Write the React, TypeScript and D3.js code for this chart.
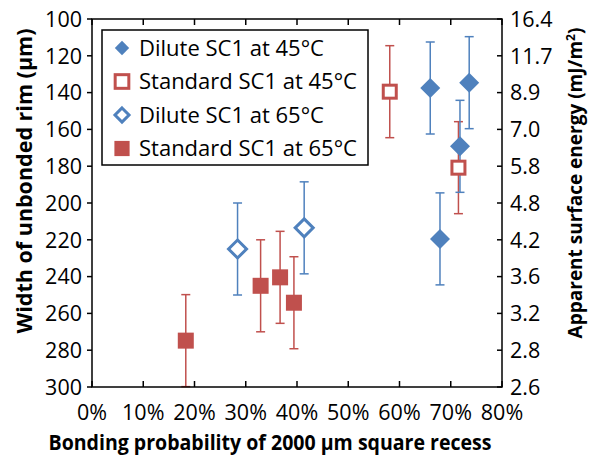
import React from "react";
import * as d3 from "d3";

// Data
const xTicks = [0, 10, 20, 30, 40, 50, 60, 70, 80];
const yTicks = [100, 120, 140, 160, 180, 200, 220, 240, 260, 280, 300];
const rightTickLabels = ["16.4", "11.7", "8.9", "7.0", "5.8", "4.8", "4.2", "3.6", "3.2", "2.8", "2.6"];

// [x %, y µm, error µm]
const dilute45 = [
  [66.0, 137.5, 25],
  [73.6, 134.6, 25],
  [71.8, 169.2, 25],
  [67.9, 219.5, 25],
];
const standard45 = [
  [58.1, 139.5, 25],
  [71.5, 180.8, 25],
];
const dilute65 = [
  [28.4, 225.0, 25],
  [41.4, 213.5, 25],
];
const standard65 = [
  [18.3, 274.8, 25],
  [32.9, 245.0, 25],
  [36.7, 240.4, 25],
  [39.4, 254.2, 25],
];

const legendLabels = [
  "Dilute SC1 at 45°C",
  "Standard SC1 at 45°C",
  "Dilute SC1 at 65°C",
  "Standard SC1 at 65°C",
];

const BLUE = "#4F81BD";
const RED = "#C0504D";
const FONT = "'Open Sans', sans-serif";

const L = 92, R = 502, T = 19, B = 387;

type Kind = "fdiamond" | "odiamond" | "fsquare" | "osquare";

function Marker({ kind, cx, cy, k = 1 }: { kind: Kind; cx: number; cy: number; k?: number }) {
  if (kind === "fdiamond") {
    const s = 10 * k;
    return <path d={`M${cx},${cy - s}L${cx + s},${cy}L${cx},${cy + s}L${cx - s},${cy}Z`} fill={BLUE} />;
  }
  if (kind === "odiamond") {
    const s = 9 * k;
    return <path d={`M${cx},${cy - s}L${cx + s},${cy}L${cx},${cy + s}L${cx - s},${cy}Z`} fill="white" stroke={BLUE} strokeWidth={3} />;
  }
  if (kind === "fsquare") {
    const s = 8 * k;
    return <rect x={cx - s} y={cy - s} width={2 * s} height={2 * s} fill={RED} />;
  }
  const s = 6.5 * k;
  return <rect x={cx - s} y={cy - s} width={2 * s} height={2 * s} fill="white" stroke={RED} strokeWidth={3} />;
}

export default function App() {
  const x = d3.scaleLinear().domain([0, 80]).range([L, R]);
  const y = d3.scaleLinear().domain([100, 300]).range([T, B]);

  const series: { data: number[][]; color: string; kind: Kind }[] = [
    { data: standard65, color: RED, kind: "fsquare" },
    { data: dilute65, color: BLUE, kind: "odiamond" },
    { data: standard45, color: RED, kind: "osquare" },
    { data: dilute45, color: BLUE, kind: "fdiamond" },
  ];
  const legendKinds: Kind[] = ["fdiamond", "osquare", "odiamond", "fsquare"];
  const legendScale = [0.72, 1.05, 0.78, 0.95];
  const cap = 4.5;

  return (
    <svg width={589} height={460} style={{ position: "absolute", left: 0, top: 0, background: "white" }} fontFamily={FONT}>
      <rect width={589} height={460} fill="white" />
      {/* error bars */}
      {series.map((s, si) =>
        s.data.map((d, i) => {
          const cx = x(d[0]);
          const y1 = y(Math.max(100, d[1] - d[2]));
          const y2 = y(Math.min(300, d[1] + d[2]));
          return (
            <g key={`e${si}-${i}`} stroke={s.color} strokeWidth={1.5}>
              <line x1={cx} x2={cx} y1={y1} y2={y2} />
              <line x1={cx - cap} x2={cx + cap} y1={y1} y2={y1} />
              <line x1={cx - cap} x2={cx + cap} y1={y2} y2={y2} />
            </g>
          );
        })
      )}
      {/* markers */}
      {series.map((s, si) =>
        s.data.map((d, i) => <Marker key={`m${si}-${i}`} kind={s.kind} cx={x(d[0])} cy={y(d[1])} />)
      )}
      {/* frame */}
      <rect x={L} y={T} width={R - L} height={B - T} fill="none" stroke="black" strokeWidth={1.5} />
      {/* x ticks */}
      {xTicks.map((t) => (
        <g key={`x${t}`}>
          <line x1={x(t)} x2={x(t)} y1={B} y2={B - 6} stroke="black" strokeWidth={1.5} />
          <line x1={x(t)} x2={x(t)} y1={T} y2={T + 6} stroke="black" strokeWidth={1.5} />
          <text x={x(t)} y={420} fontSize={21.5} textAnchor="middle" fill="black">{`${t}%`}</text>
        </g>
      ))}
      {/* y ticks */}
      {yTicks.map((t, i) => (
        <g key={`y${t}`}>
          <line x1={L - 5} x2={L} y1={y(t)} y2={y(t)} stroke="black" strokeWidth={1.5} />
          <line x1={R - 5} x2={R} y1={y(t)} y2={y(t)} stroke="black" strokeWidth={1.5} />
          <text x={L - 10} y={y(t)} dy="0.36em" fontSize={21.5} textAnchor="end" fill="black">{t}</text>
          <text x={R + 8} y={y(t)} dy="0.36em" fontSize={21.5} textAnchor="start" fill="black">{rightTickLabels[i]}</text>
        </g>
      ))}
      {/* axis titles */}
      <text transform={`translate(32,181) rotate(-90)`} textAnchor="middle" fontSize={21} fontWeight="bold" fill="black"
        textLength={305} lengthAdjust="spacingAndGlyphs">
        Width of unbonded rim (µm)
      </text>
      <text transform={`translate(582,183) rotate(-90)`} textAnchor="middle" fontSize={19} fontWeight="bold" fill="black">
        Apparent surface energy (mJ/m<tspan dy="-7" fontSize={12}>2</tspan><tspan dy="7">)</tspan>
      </text>
      <text x={270} y={450} textAnchor="middle" fontSize={21} fontWeight="bold" fill="black"
        textLength={443} lengthAdjust="spacingAndGlyphs">
        Bonding probability of 2000 µm square recess
      </text>
      {/* legend */}
      <rect x={102} y={30} width={266} height={135} fill="white" stroke="black" strokeWidth={1.5} />
      {legendLabels.map((lab, i) => {
        const cy = 48 + i * 33.5;
        return (
          <g key={lab}>
            <Marker kind={legendKinds[i]} cx={122} cy={cy} k={legendScale[i]} />
            <text x={139} y={cy} dy="0.36em" fontSize={22} fill="black">{lab}</text>
          </g>
        );
      })}
    </svg>
  );
}
